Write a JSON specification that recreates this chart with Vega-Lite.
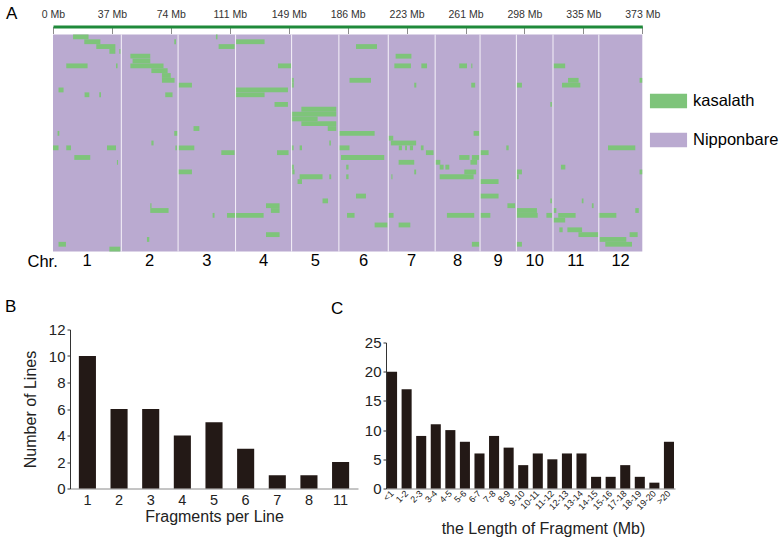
{
  "$schema": "https://vega.github.io/schema/vega-lite/v6.json",
  "background": "white",
  "padding": {"left": 5, "top": 4.5, "right": 5, "bottom": 5},
  "config": {"font": "Liberation Sans", "view": {"stroke": null}, "axis": {"grid": false}},
  "datasets": {
    "chroms": [
      {"chr": "1", "start": 0, "end": 43.27},
      {"chr": "2", "start": 43.27, "end": 79.21},
      {"chr": "3", "start": 79.21, "end": 115.62},
      {"chr": "4", "start": 115.62, "end": 151.12},
      {"chr": "5", "start": 151.12, "end": 181.08},
      {"chr": "6", "start": 181.08, "end": 212.33},
      {"chr": "7", "start": 212.33, "end": 242.03},
      {"chr": "8", "start": 242.03, "end": 270.47},
      {"chr": "9", "start": 270.47, "end": 293.48},
      {"chr": "10", "start": 293.48, "end": 316.69},
      {"chr": "11", "start": 316.69, "end": 345.71},
      {"chr": "12", "start": 345.71, "end": 373.24}
    ],
    "segs": [
      {"row": 0, "start": 12.7, "end": 22.5}, {"row": 0, "start": 103.2, "end": 104.2},
      {"row": 1, "start": 19.8, "end": 30.0}, {"row": 1, "start": 76.8, "end": 77.9}, {"row": 1, "start": 115.5, "end": 134.0},
      {"row": 2, "start": 27.4, "end": 39.5}, {"row": 2, "start": 104.9, "end": 115.0}, {"row": 2, "start": 191.9, "end": 205.2},
      {"row": 3, "start": 35.7, "end": 39.5}, {"row": 3, "start": 42.0, "end": 42.8},
      {"row": 4, "start": 49.0, "end": 61.6}, {"row": 4, "start": 217.0, "end": 227.0},
      {"row": 5, "start": 50.4, "end": 61.6},
      {"row": 6, "start": 8.4, "end": 21.9}, {"row": 6, "start": 39.9, "end": 40.9}, {"row": 6, "start": 49.0, "end": 70.0}, {"row": 6, "start": 142.5, "end": 151.0}, {"row": 6, "start": 216.2, "end": 226.7}, {"row": 6, "start": 233.3, "end": 236.9}, {"row": 6, "start": 257.3, "end": 262.2}, {"row": 6, "start": 264.9, "end": 265.6}, {"row": 6, "start": 317.0, "end": 324.4},
      {"row": 7, "start": 62.3, "end": 72.6},
      {"row": 8, "start": 69.0, "end": 74.6},
      {"row": 9, "start": 69.0, "end": 77.0}, {"row": 9, "start": 150.7, "end": 152.5}, {"row": 9, "start": 187.8, "end": 201.4}, {"row": 9, "start": 326.2, "end": 332.9}, {"row": 9, "start": 371.5, "end": 373.2},
      {"row": 10, "start": 79.5, "end": 88.0}, {"row": 10, "start": 150.7, "end": 152.5}, {"row": 10, "start": 228.8, "end": 230.1}, {"row": 10, "start": 264.9, "end": 267.4}, {"row": 10, "start": 293.5, "end": 297.0}, {"row": 10, "start": 322.4, "end": 334.0},
      {"row": 11, "start": 3.5, "end": 6.7}, {"row": 11, "start": 115.5, "end": 148.8},
      {"row": 12, "start": 20.0, "end": 23.0}, {"row": 12, "start": 29.3, "end": 30.4}, {"row": 12, "start": 71.1, "end": 75.7}, {"row": 12, "start": 115.5, "end": 134.0},
      {"row": 14, "start": 140.3, "end": 148.8}, {"row": 14, "start": 315.0, "end": 316.0},
      {"row": 15, "start": 157.3, "end": 179.4},
      {"row": 16, "start": 150.7, "end": 179.4},
      {"row": 17, "start": 150.7, "end": 167.6},
      {"row": 18, "start": 157.3, "end": 179.4},
      {"row": 19, "start": 89.0, "end": 92.7}, {"row": 19, "start": 174.0, "end": 179.4},
      {"row": 20, "start": 2.9, "end": 4.0}, {"row": 20, "start": 76.8, "end": 78.9}, {"row": 20, "start": 181.3, "end": 203.7}, {"row": 20, "start": 266.4, "end": 270.0},
      {"row": 21, "start": 212.2, "end": 215.5},
      {"row": 22, "start": 62.3, "end": 63.7}, {"row": 22, "start": 175.0, "end": 176.0}, {"row": 22, "start": 214.0, "end": 230.0},
      {"row": 23, "start": 0.0, "end": 3.5}, {"row": 23, "start": 8.4, "end": 11.4}, {"row": 23, "start": 34.2, "end": 39.9}, {"row": 23, "start": 77.5, "end": 78.5}, {"row": 23, "start": 79.5, "end": 89.5}, {"row": 23, "start": 150.7, "end": 152.4}, {"row": 23, "start": 156.2, "end": 157.7}, {"row": 23, "start": 181.3, "end": 187.8}, {"row": 23, "start": 219.0, "end": 221.0}, {"row": 23, "start": 223.0, "end": 224.2}, {"row": 23, "start": 226.0, "end": 228.0}, {"row": 23, "start": 233.0, "end": 234.7}, {"row": 23, "start": 287.1, "end": 288.6}, {"row": 23, "start": 351.5, "end": 368.8},
      {"row": 24, "start": 106.6, "end": 115.0}, {"row": 24, "start": 141.9, "end": 149.2}, {"row": 24, "start": 236.2, "end": 241.0}, {"row": 24, "start": 270.6, "end": 275.9},
      {"row": 25, "start": 13.5, "end": 23.6}, {"row": 25, "start": 182.4, "end": 209.8}, {"row": 25, "start": 257.3, "end": 263.8}, {"row": 25, "start": 265.3, "end": 270.0},
      {"row": 26, "start": 40.5, "end": 41.2}, {"row": 26, "start": 218.9, "end": 228.8}, {"row": 26, "start": 242.1, "end": 245.3}, {"row": 26, "start": 264.4, "end": 268.6},
      {"row": 27, "start": 151.0, "end": 152.5}, {"row": 27, "start": 185.7, "end": 187.2}, {"row": 27, "start": 244.9, "end": 247.4}, {"row": 27, "start": 248.5, "end": 251.0}, {"row": 27, "start": 321.7, "end": 324.5},
      {"row": 28, "start": 79.2, "end": 88.0}, {"row": 28, "start": 151.5, "end": 153.0}, {"row": 28, "start": 228.8, "end": 230.0}, {"row": 28, "start": 260.5, "end": 268.0}, {"row": 28, "start": 293.5, "end": 297.0}, {"row": 28, "start": 371.5, "end": 373.2},
      {"row": 29, "start": 156.2, "end": 170.7}, {"row": 29, "start": 175.0, "end": 176.2}, {"row": 29, "start": 185.7, "end": 187.2}, {"row": 29, "start": 214.3, "end": 215.0}, {"row": 29, "start": 244.9, "end": 266.4}, {"row": 29, "start": 293.5, "end": 295.0},
      {"row": 30, "start": 154.9, "end": 157.7}, {"row": 30, "start": 270.6, "end": 282.2},
      {"row": 33, "start": 191.9, "end": 198.2}, {"row": 33, "start": 270.6, "end": 282.2},
      {"row": 34, "start": 170.7, "end": 174.2}, {"row": 34, "start": 315.0, "end": 316.0}, {"row": 34, "start": 334.9, "end": 336.0},
      {"row": 35, "start": 61.6, "end": 62.4}, {"row": 35, "start": 134.9, "end": 143.5}, {"row": 35, "start": 287.8, "end": 292.7}, {"row": 35, "start": 341.3, "end": 342.4},
      {"row": 36, "start": 61.6, "end": 73.2}, {"row": 36, "start": 138.0, "end": 143.5}, {"row": 36, "start": 293.5, "end": 306.5}, {"row": 36, "start": 317.0, "end": 318.8}, {"row": 36, "start": 368.8, "end": 371.0},
      {"row": 37, "start": 101.1, "end": 102.3}, {"row": 37, "start": 110.2, "end": 133.4}, {"row": 37, "start": 186.2, "end": 191.0}, {"row": 37, "start": 212.2, "end": 215.7}, {"row": 37, "start": 249.5, "end": 266.8}, {"row": 37, "start": 270.6, "end": 277.0}, {"row": 37, "start": 293.5, "end": 307.0}, {"row": 37, "start": 312.5, "end": 316.1}, {"row": 37, "start": 320.0, "end": 331.0}, {"row": 37, "start": 345.5, "end": 356.8},
      {"row": 38, "start": 317.0, "end": 324.4},
      {"row": 39, "start": 203.7, "end": 211.9}, {"row": 39, "start": 218.9, "end": 226.3},
      {"row": 40, "start": 320.7, "end": 322.8}, {"row": 40, "start": 325.8, "end": 335.1},
      {"row": 41, "start": 134.9, "end": 143.5}, {"row": 41, "start": 332.8, "end": 345.5}, {"row": 41, "start": 365.2, "end": 370.3},
      {"row": 42, "start": 59.5, "end": 61.0}, {"row": 42, "start": 346.2, "end": 363.1},
      {"row": 43, "start": 3.5, "end": 8.2}, {"row": 43, "start": 265.3, "end": 270.0}, {"row": 43, "start": 293.5, "end": 297.0}, {"row": 43, "start": 349.8, "end": 366.7},
      {"row": 44, "start": 35.7, "end": 42.6}
    ],
    "frag": [
      {"fragments": "1", "lines": 10}, {"fragments": "2", "lines": 6}, {"fragments": "3", "lines": 6},
      {"fragments": "4", "lines": 4}, {"fragments": "5", "lines": 5}, {"fragments": "6", "lines": 3},
      {"fragments": "7", "lines": 1}, {"fragments": "8", "lines": 1}, {"fragments": "11", "lines": 2}
    ],
    "lens": [
      {"len": "<1", "count": 20}, {"len": "1-2", "count": 17}, {"len": "2-3", "count": 9}, {"len": "3-4", "count": 11},
      {"len": "4-5", "count": 10}, {"len": "5-6", "count": 8}, {"len": "6-7", "count": 6}, {"len": "7-8", "count": 9},
      {"len": "8-9", "count": 7}, {"len": "9-10", "count": 4}, {"len": "10-11", "count": 6}, {"len": "11-12", "count": 5},
      {"len": "12-13", "count": 6}, {"len": "13-14", "count": 6}, {"len": "14-15", "count": 2}, {"len": "15-16", "count": 2},
      {"len": "17-18", "count": 4}, {"len": "18-19", "count": 2}, {"len": "19-20", "count": 1}, {"len": ">20", "count": 8}
    ],
    "empty": []
  },
  "concat": [
    {
      "width": 589.3,
      "height": 217,
      "title": {"text": "A", "anchor": "start", "frame": "group", "fontSize": 17, "fontWeight": "normal", "color": "black", "dx": -47, "offset": 0, "dy": 14},
      "layer": [
        {
          "data": {"name": "chroms"},
          "mark": {"type": "rect"},
          "encoding": {
            "x": {"field": "start", "type": "quantitative",
              "scale": {"domain": [0, 373.24], "nice": false, "zero": false},
              "axis": {"orient": "top", "title": null, "values": [0, 37.324, 74.648, 111.972, 149.296, 186.62, 223.944, 261.268, 298.592, 335.916, 373.24],
                "labelExpr": "floor(datum.value) + ' Mb'", "offset": 8, "domainColor": "#1f8a3a", "domainWidth": 3, "domainCap": "butt",
                "tickColor": "#8c8c8c", "tickSize": -7, "tickWidth": 1, "labelFontSize": 10.5, "labelColor": "#333333", "labelPadding": 14.5,
                "labelFlush": false, "labelOverlap": false, "labelBound": false, "grid": false}},
            "x2": {"field": "end"},
            "color": {"datum": "Nipponbare", "type": "nominal",
              "scale": {"domain": ["kasalath", "Nipponbare"], "range": ["#7ec47a", "#baaad0"]},
              "legend": {"orient": "none", "legendX": 601, "legendY": 52, "title": null, "padding": 0,
                "symbolType": "M-1.28,-0.5H1.28V0.5H-1.28Z", "symbolSize": 841, "symbolStrokeWidth": 0, "symbolOpacity": 1,
                "labelFontSize": 16.5, "labelColor": "black", "labelOffset": 10, "rowPadding": 16}}
          }
        },
        {
          "data": {"name": "segs"},
          "mark": {"type": "rect"},
          "encoding": {
            "x": {"field": "start", "type": "quantitative"},
            "x2": {"field": "end"},
            "y": {"field": "row", "type": "ordinal",
              "scale": {"domain": [0,1,2,3,4,5,6,7,8,9,10,11,12,13,14,15,16,17,18,19,20,21,22,23,24,25,26,27,28,29,30,31,32,33,34,35,36,37,38,39,40,41,42,43,44], "paddingInner": 0, "paddingOuter": 0},
              "axis": {"title": "Chr.", "labels": false, "ticks": false, "domain": false, "titleAngle": 0, "titleX": -26, "titleY": 227,
                "titleAlign": "left", "titleBaseline": "middle", "titleFontSize": 16.5, "titleFontWeight": "normal", "titleColor": "black"}},
            "color": {"datum": "kasalath", "type": "nominal"}
          }
        },
        {
          "data": {"name": "chroms"},
          "transform": [{"filter": "datum.chr != '12'"}],
          "mark": {"type": "rule", "color": "#f4f0f8", "strokeWidth": 1},
          "encoding": {"x": {"field": "end", "type": "quantitative"}}
        },
        {
          "data": {"name": "chroms"},
          "transform": [{"calculate": "(datum.start + datum.end) / 2", "as": "mid"}],
          "mark": {"type": "text", "baseline": "top", "dy": 1.5, "fontSize": 16.5, "color": "black"},
          "encoding": {
            "x": {"field": "mid", "type": "quantitative"},
            "y": {"value": "height"},
            "text": {"field": "chr"}
          }
        }
      ]
    },
    {
      "hconcat": [
        {
          "width": 17,
          "height": 10,
          "data": {"name": "empty"},
          "mark": {"type": "point"}
        },
        {
          "hconcat": [
            {
              "width": 288,
              "height": 159,
              "title": {"text": "B", "anchor": "start", "frame": "group", "fontSize": 17, "fontWeight": "normal", "color": "black", "dx": -65, "offset": 6.5},
              "data": {"name": "frag"},
              "mark": {"type": "bar", "color": "#231916"},
              "encoding": {
                "x": {"field": "fragments", "type": "ordinal", "sort": null,
                  "scale": {"paddingInner": 0.46, "paddingOuter": 0.28},
                  "axis": {"title": "Fragments per Line", "labelAngle": 0, "ticks": false, "domainColor": "#8a8a8a", "labelFontSize": 14.5,
                    "labelPadding": 5, "labelColor": "#222222", "titleFontSize": 16, "titleFontWeight": "normal", "titleColor": "#222222", "titlePadding": 1.5}},
                "y": {"field": "lines", "type": "quantitative", "scale": {"domain": [0, 12]},
                  "axis": {"values": [0, 2, 4, 6, 8, 10, 12], "title": "Number of Lines", "domainColor": "#333333", "tickColor": "#333333", "tickSize": 3,
                    "labelPadding": 2, "labelFontSize": 15, "labelColor": "#222222", "titleFontSize": 16, "titleFontWeight": "normal", "titleColor": "#222222", "titlePadding": 10}}
              }
            },
            {
              "width": 289,
              "height": 159,
              "title": {"text": "C", "anchor": "start", "frame": "group", "fontSize": 17, "fontWeight": "normal", "color": "black", "dx": -55, "offset": 12},
              "data": {"name": "lens"},
              "mark": {"type": "bar", "color": "#231916"},
              "encoding": {
                "x": {"field": "len", "type": "ordinal", "sort": null,
                  "scale": {"paddingInner": 0.31, "paddingOuter": 0.07},
                  "axis": {"title": "the Length of Fragment (Mb)", "labelAngle": -45, "labelAlign": "right", "labelBaseline": "middle", "ticks": false,
                    "domainColor": "#8a8a8a", "labelFontSize": 9, "labelPadding": 3, "labelColor": "#222222",
                    "titleFontSize": 16, "titleFontWeight": "normal", "titleColor": "#222222", "titlePadding": 9, "titleX": 157}},
                "y": {"field": "count", "type": "quantitative", "scale": {"domain": [0, 25], "range": [159, 13]},
                  "axis": {"values": [0, 5, 10, 15, 20, 25], "title": null, "domainColor": "#333333", "tickColor": "#333333", "tickSize": 3,
                    "labelPadding": 2, "labelFontSize": 15, "labelColor": "#222222"}}
              }
            }
          ],
          "spacing": 28,
          "bounds": "flush"
        }
      ],
      "spacing": 0,
      "bounds": "flush"
    }
  ],
  "columns": 1,
  "spacing": 27
}
